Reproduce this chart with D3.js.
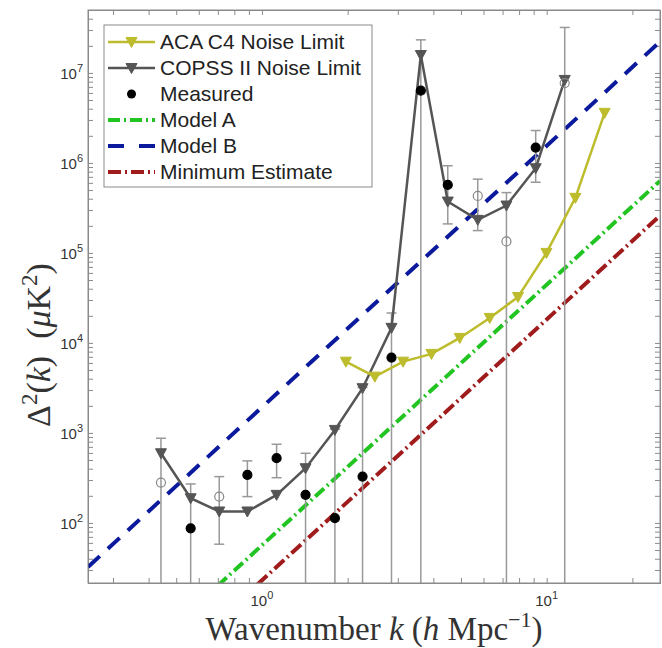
<!DOCTYPE html>
<html>
<head>
<meta charset="utf-8">
<script src="https://cdn.jsdelivr.net/npm/d3@7"></script>
<style>
body { margin: 0; background: #fff; }
</style>
</head>
<body>
<script>
// k bins of the COPSS II measurement (h/Mpc)
var kCopss = [0.442, 0.562, 0.708, 0.889, 1.126, 1.423, 1.804, 2.256, 2.851, 3.614, 4.494, 5.727, 7.222, 9.15, 11.57];
var copssNoise = [594, 188, 134, 134, 205, 405, 1080, 3140, 14700, 1.58e7, 3.72e5, 2.33e5, 3.36e5, 8.73e5, 8.36e6];
// measured power (absolute value), negative ones drawn as open circles
var measured = [281, 87, 196, 341, 524, 205, 113, 327, 6870, 6.35e6, 5.7e5, 4.3e5, 1.34e5, 1.48e6, 7.7e6];
var negative = [true, false, true, false, false, false, false, false, false, false, false, true, true, false, true];
var errHigh = [873, 271, 327, 489, 748, 594, 1100, 3200, 21500, 2.33e7, 9.3e5, 6.6e5, 4.68e5, 2.29e6, 3.2e7];
var errLow = [null, null, 58, 196, 318, null, null, null, null, null, 2.1e5, 1.77e5, null, 6.1e5, null]; // null = runs below zero

// ACA C4 forecast
var kAca = [1.971, 2.492, 3.131, 3.939, 4.952, 6.31, 7.93, 9.98, 12.61, 15.98];
var acaNoise = [6190, 4220, 6190, 7550, 11360, 18950, 32400, 1.0e5, 4.09e5, 3.6e6];

// model power laws, given at the two ends of the k range
var kModel = [0.245, 25];
var modelA = [0.96, 6.3e5];
var modelB = [32.4, 2.22e7];
var minEstimate = [0.39, 2.6e5];

var xMajor = [1, 10];
var xMajorExp = ["0", "1"];
var yMajor = [1e2, 1e3, 1e4, 1e5, 1e6, 1e7];
var yMajorExp = ["2", "3", "4", "5", "6", "7"];

var legendLabels = ["ACA C4 Noise Limit", "COPSS II Noise Limit", "Measured", "Model A", "Model B", "Minimum Estimate"];

var colAca = "#bcbc2c", colCopss = "#555555", colErr = "#999999";
var colA = "#22c422", colB = "#0b1a9c", colMin = "#a01c1c";
var dashA = "12,4,2,4", dashB = "16,11", dashMin = "13,4,2,4";

var width = 662, height = 648;
var margin = {top: 10, right: 2, bottom: 65, left: 88};
var plotW = width - margin.left - margin.right,
    plotH = height - margin.top - margin.bottom;

var svg = d3.select("body").append("svg").attr("width", width).attr("height", height);
var g = svg.append("g").attr("transform", "translate(" + margin.left + "," + margin.top + ")");

var x = d3.scaleLog().domain([0.245, 25]).range([0, plotW]);
var y = d3.scaleLog().domain([21.5, 5e7]).range([plotH, 0]);

svg.append("defs").append("clipPath").attr("id", "clip")
  .append("rect").attr("width", plotW).attr("height", plotH);

// axes, ticks pointing inside like matlab
function drawAxis(axisFn, transform, ticks, size) {
  var a = g.append("g").attr("transform", transform)
    .call(axisFn.tickValues(ticks).tickSize(size).tickFormat(""));
  a.selectAll("line").attr("stroke", "#8a8a8a");
  a.select(".domain").attr("stroke", "#8a8a8a");
  return a;
}
var xt = x.ticks(), yt = y.ticks();
drawAxis(d3.axisBottom(x), "translate(0," + plotH + ")", xt, -5);
drawAxis(d3.axisTop(x), "translate(0,0)", xt, -5);
drawAxis(d3.axisLeft(y), "translate(0,0)", yt, -5);
drawAxis(d3.axisRight(y), "translate(" + plotW + ",0)", yt, -5);

// tick labels 10^n
xMajor.forEach(function(v, i) {
  var t = g.append("text").attr("x", x(v)).attr("y", plotH + 23)
    .attr("text-anchor", "middle").attr("font-family", "Liberation Sans, Arial")
    .attr("font-size", 15).attr("fill", "#333").text("10");
  t.append("tspan").attr("dy", -7).attr("font-size", 11).text(xMajorExp[i]);
});
yMajor.forEach(function(v, i) {
  var t = g.append("text").attr("x", -5).attr("y", y(v) + 6)
    .attr("text-anchor", "end").attr("font-family", "Liberation Sans, Arial")
    .attr("font-size", 15).attr("fill", "#333").text("10");
  t.append("tspan").attr("dy", -7).attr("font-size", 11).text(yMajorExp[i]);
});

var plot = g.append("g").attr("clip-path", "url(#clip)");

// model lines
var modelLine = d3.line().x(function(d) { return x(d[0]); }).y(function(d) { return y(d[1]); });
function drawModel(vals, col, dash) {
  plot.append("path").datum(kModel.map(function(k, i) { return [k, vals[i]]; }))
    .attr("d", modelLine).attr("fill", "none").attr("stroke", col)
    .attr("stroke-width", 4).attr("stroke-dasharray", dash);
}
drawModel(modelB, colB, dashB);
drawModel(modelA, colA, dashA);
drawModel(minEstimate, colMin, dashMin);

// error bars
var eb = plot.selectAll(".eb").data(kCopss).enter().append("g").attr("class", "eb");
eb.append("line")
  .attr("x1", function(d) { return x(d); }).attr("x2", function(d) { return x(d); })
  .attr("y1", function(d, i) { return y(errHigh[i]); })
  .attr("y2", function(d, i) { return errLow[i] === null ? plotH + 5 : y(errLow[i]); })
  .attr("stroke", colErr).attr("stroke-width", 1.5);
eb.append("line")
  .attr("x1", function(d) { return x(d) - 5; }).attr("x2", function(d) { return x(d) + 5; })
  .attr("y1", function(d, i) { return y(errHigh[i]); }).attr("y2", function(d, i) { return y(errHigh[i]); })
  .attr("stroke", colErr).attr("stroke-width", 1.5);
eb.filter(function(d, i) { return errLow[i] !== null; }).append("line")
  .attr("x1", function(d) { return x(d) - 5; }).attr("x2", function(d) { return x(d) + 5; })
  .attr("y1", function(d) { return y(errLow[kCopss.indexOf(d)]); })
  .attr("y2", function(d) { return y(errLow[kCopss.indexOf(d)]); })
  .attr("stroke", colErr).attr("stroke-width", 1.5);

// noise curves with down triangles
var tri = "M-5.5,-4.5L5.5,-4.5L0,5.5Z";
function drawNoise(ks, vals, col) {
  var pts = ks.map(function(k, i) { return [k, vals[i]]; });
  plot.append("path").datum(pts).attr("d", modelLine)
    .attr("fill", "none").attr("stroke", col).attr("stroke-width", 2.5);
  plot.selectAll(null).data(pts).enter().append("path")
    .attr("d", tri).attr("transform", function(d) { return "translate(" + x(d[0]) + "," + y(d[1]) + ")"; })
    .attr("fill", col).attr("stroke", col);
}
drawNoise(kCopss, copssNoise, colCopss);
drawNoise(kAca, acaNoise, colAca);

// measured points
plot.selectAll(".pt").data(measured).enter().append("circle").attr("class", "pt")
  .attr("cx", function(d, i) { return x(kCopss[i]); })
  .attr("cy", function(d) { return y(d); })
  .attr("r", 4.5)
  .attr("fill", function(d, i) { return negative[i] ? "none" : "#000"; })
  .attr("stroke", function(d, i) { return negative[i] ? "#888" : "#000"; })
  .attr("stroke-width", 1.2);

// box
g.append("rect").attr("width", plotW).attr("height", plotH)
  .attr("fill", "none").attr("stroke", "#8a8a8a");

// legend
var lg = svg.append("g").attr("transform", "translate(104,25)");
lg.append("rect").attr("width", 268).attr("height", 162).attr("fill", "#fff").attr("stroke", "#8a8a8a");
var legendStyle = [
  {col: colAca, dash: null, w: 2.5, mark: "tri"},
  {col: colCopss, dash: null, w: 2.5, mark: "tri"},
  {col: "#000", dash: null, w: 0, mark: "dot"},
  {col: colA, dash: dashA, w: 4, mark: null},
  {col: colB, dash: "16,15", w: 4, mark: null},
  {col: colMin, dash: dashMin, w: 4, mark: null}
];
legendLabels.forEach(function(lab, i) {
  var ly = 17 + i * 26, s = legendStyle[i];
  if (s.w > 0) {
    lg.append("line").attr("x1", 4).attr("x2", 51).attr("y1", ly).attr("y2", ly)
      .attr("stroke", s.col).attr("stroke-width", s.w).attr("stroke-dasharray", s.dash);
  }
  if (s.mark === "tri") {
    lg.append("path").attr("d", tri).attr("transform", "translate(27.5," + ly + ")").attr("fill", s.col).attr("stroke", s.col);
  } else if (s.mark === "dot") {
    lg.append("circle").attr("cx", 27.5).attr("cy", ly).attr("r", 4.5).attr("fill", "#000");
  }
  lg.append("text").attr("x", 56).attr("y", ly + 7).attr("font-family", "Liberation Sans, Arial")
    .attr("font-size", 21).attr("fill", "#222").text(lab);
});

// axis labels
var xl = svg.append("text").attr("x", margin.left + plotW / 2).attr("y", 640)
  .attr("text-anchor", "middle").attr("font-family", "Liberation Serif, serif")
  .attr("font-size", 33).attr("fill", "#333");
xl.append("tspan").text("Wavenumber ");
xl.append("tspan").attr("font-style", "italic").text("k");
xl.append("tspan").text(" (");
xl.append("tspan").attr("font-style", "italic").text("h");
xl.append("tspan").text(" Mpc");
xl.append("tspan").attr("dy", -13).attr("font-size", 22).text("\u22121");
xl.append("tspan").attr("dy", 13).text(")");

var yl = svg.append("text").attr("transform", "translate(50,345) rotate(-90)")
  .attr("text-anchor", "middle").attr("font-family", "Liberation Serif, serif")
  .attr("font-size", 34).attr("fill", "#333");
yl.append("tspan").text("\u0394");
yl.append("tspan").attr("dy", -13).attr("font-size", 23).text("2");
yl.append("tspan").attr("dy", 13).text("(");
yl.append("tspan").attr("font-style", "italic").text("k");
yl.append("tspan").text(")\u2002(");
yl.append("tspan").attr("font-style", "italic").text("\u03bc");
yl.append("tspan").text("K");
yl.append("tspan").attr("dy", -13).attr("font-size", 23).text("2");
yl.append("tspan").attr("dy", 13).text(")");
</script>
</body>
</html>
